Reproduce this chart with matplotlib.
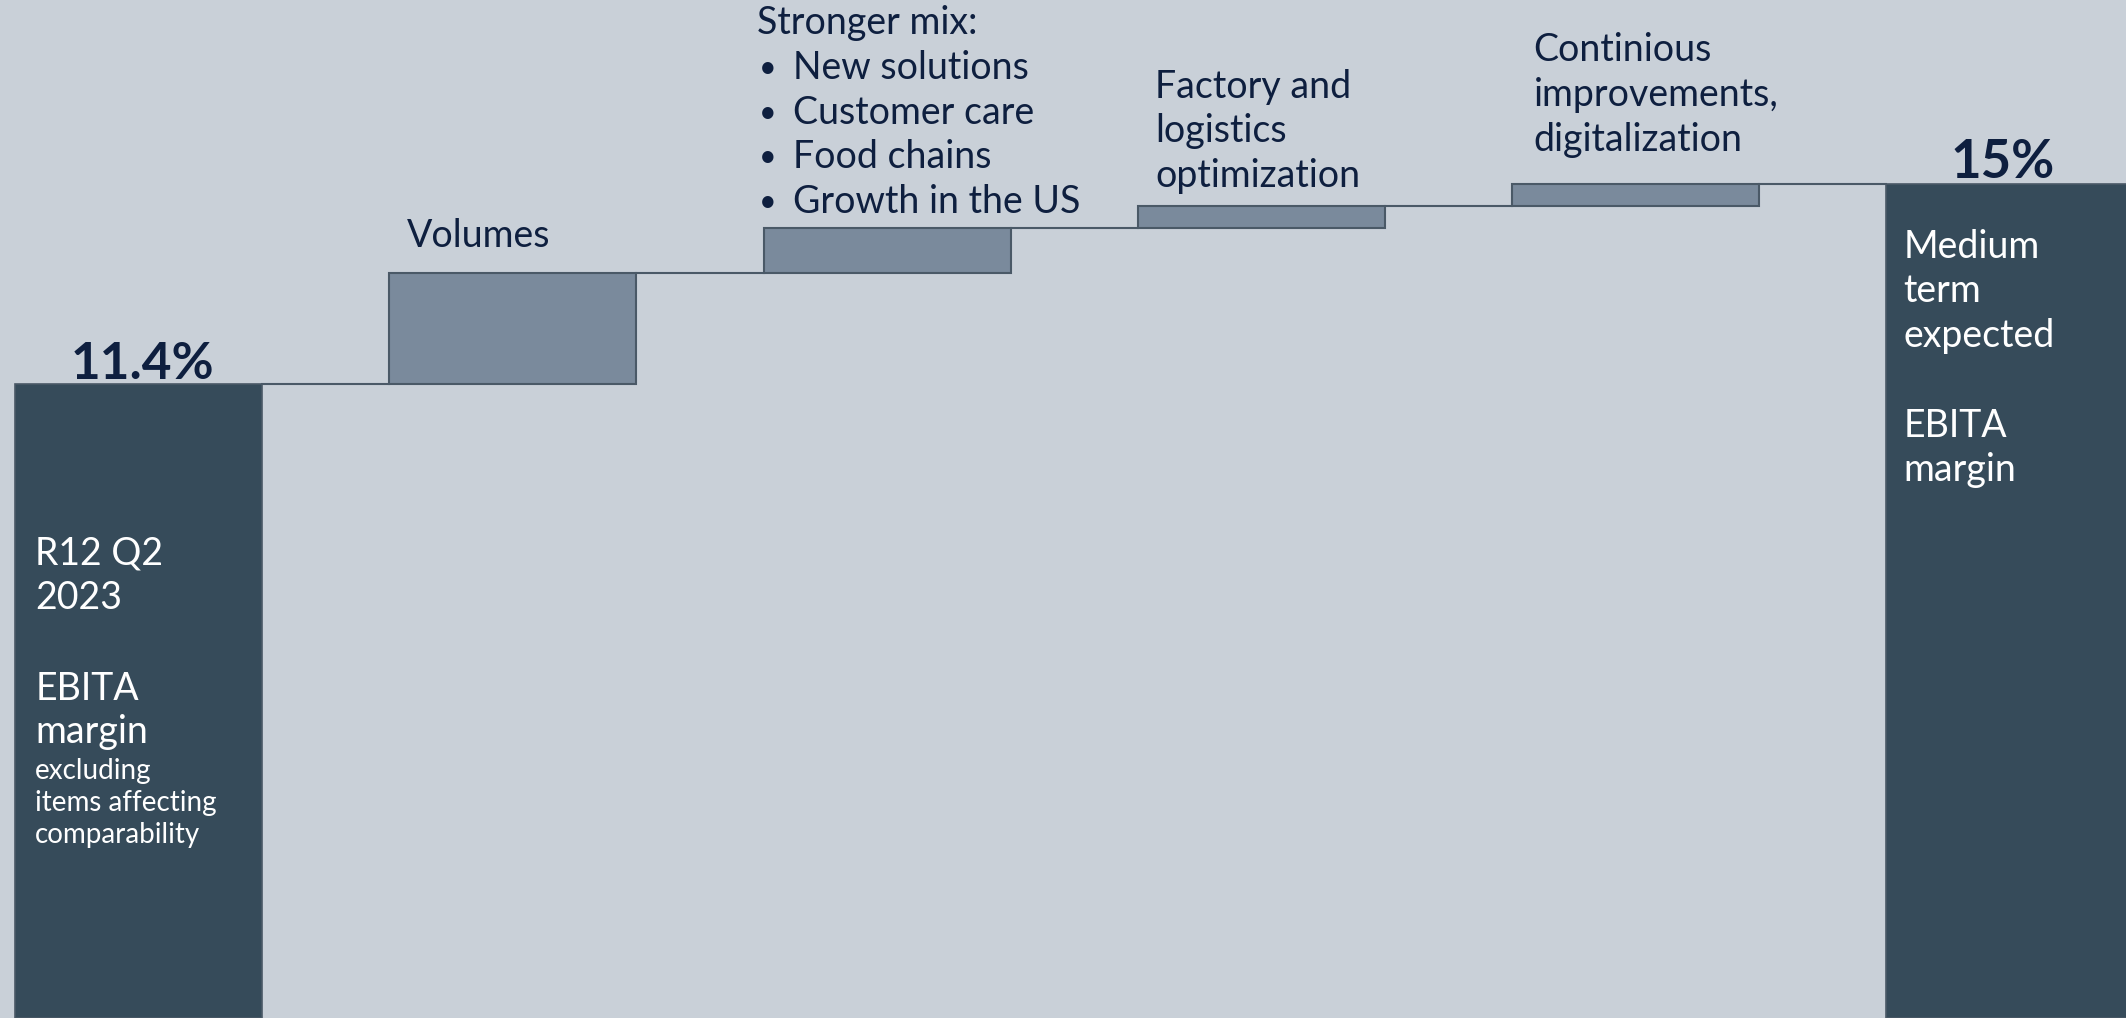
import matplotlib
matplotlib.use("Agg")
import matplotlib.pyplot as plt

# ---- data ----
steps = ["R12 Q2 2023", "Volumes", "Stronger mix", "Factory and logistics", "Continious improvements", "Medium term"]
start_value = 11.4
increments = [2.0, 0.8, 0.4, 0.4]
end_value = 15.0
value_labels = ["11.4%", "15%"]

BG = "#C9D0D8"
DARK = "#364B5A"
LIGHT = "#7A8A9C"
EDGE = "#4A5967"
NAVY = "#0E1F3F"

W, H = 2126, 1018
fig = plt.figure(figsize=(W / 100, H / 100), dpi=100)
fig.patch.set_facecolor(BG)
ax = fig.add_axes([0, 0, 1, 1])
ax.set_facecolor(BG)
ax.set_xlim(-0.37, 5.31)
ax.set_ylim(0, 18.3)
ax.axis("off")

width = 0.66
# totals
ax.bar(0, start_value, width=width, color=DARK, edgecolor=EDGE, linewidth=1.2, zorder=2)
ax.bar(5, end_value, width=width, color=DARK, edgecolor=EDGE, linewidth=1.2, zorder=2)
# increments
level = start_value
levels = [level]
for i, inc in enumerate(increments, start=1):
    ax.bar(i, inc, bottom=level, width=width, color=LIGHT, edgecolor=EDGE, linewidth=1.5, zorder=2)
    level += inc
    levels.append(level)
# connectors
for i, lv in enumerate(levels):
    ax.plot([i + width / 2, i + 1 - width / 2], [lv, lv], color=EDGE, linewidth=1.5, zorder=1)

FONT = ["Lato", "DejaVu Sans"]

def ftxt(px, py, s, size, color=NAVY, weight="normal", ha="left", va="center"):
    fig.text(px / 1568, 1 - py / 751, s, fontsize=size, color=color, fontweight=weight,
             ha=ha, va=va, family=FONT)

# value labels
ax.text(0.01, start_value + 0.08, value_labels[0], ha="center", va="baseline", fontsize=37,
        fontweight="bold", color=NAVY, family=FONT)
ax.text(5 - 0.02, end_value + 0.1, value_labels[1], ha="center", va="baseline", fontsize=38,
        fontweight="bold", color=NAVY, family=FONT)

# step labels
ftxt(300, 174, "Volumes", 27)
ftxt(558, 17, "Stronger mix:", 27)
for k, s in enumerate(["New solutions", "Customer care", "Food chains", "Growth in the US"]):
    y = 50 + 33 * k
    ftxt(560, y, "•", 22)
    ftxt(585, y, s, 27)
for k, s in enumerate(["Factory and", "logistics", "optimization"]):
    ftxt(852, 64 + 33 * k, s, 27)
for k, s in enumerate(["Continious", "improvements,", "digitalization"]):
    ftxt(1131, 37 + 33 * k, s, 27)

# in-bar text (left)
for k, s in enumerate(["R12 Q2", "2023"]):
    ftxt(26, 408 + 33 * k, s, 27, color="white")
for k, s in enumerate(["EBITA", "margin"]):
    ftxt(26, 508 + 32 * k, s, 27, color="white")
for k, s in enumerate(["excluding", "items affecting", "comparability"]):
    ftxt(26, 569 + 23.5 * k, s, 20, color="white")

# in-bar text (right)
for k, s in enumerate(["Medium", "term", "expected"]):
    ftxt(1404, 182 + 33 * k, s, 27, color="white")
for k, s in enumerate(["EBITA", "margin"]):
    ftxt(1404, 314 + 33 * k, s, 27, color="white")

fig.savefig("out.png", dpi=100, facecolor=BG)
